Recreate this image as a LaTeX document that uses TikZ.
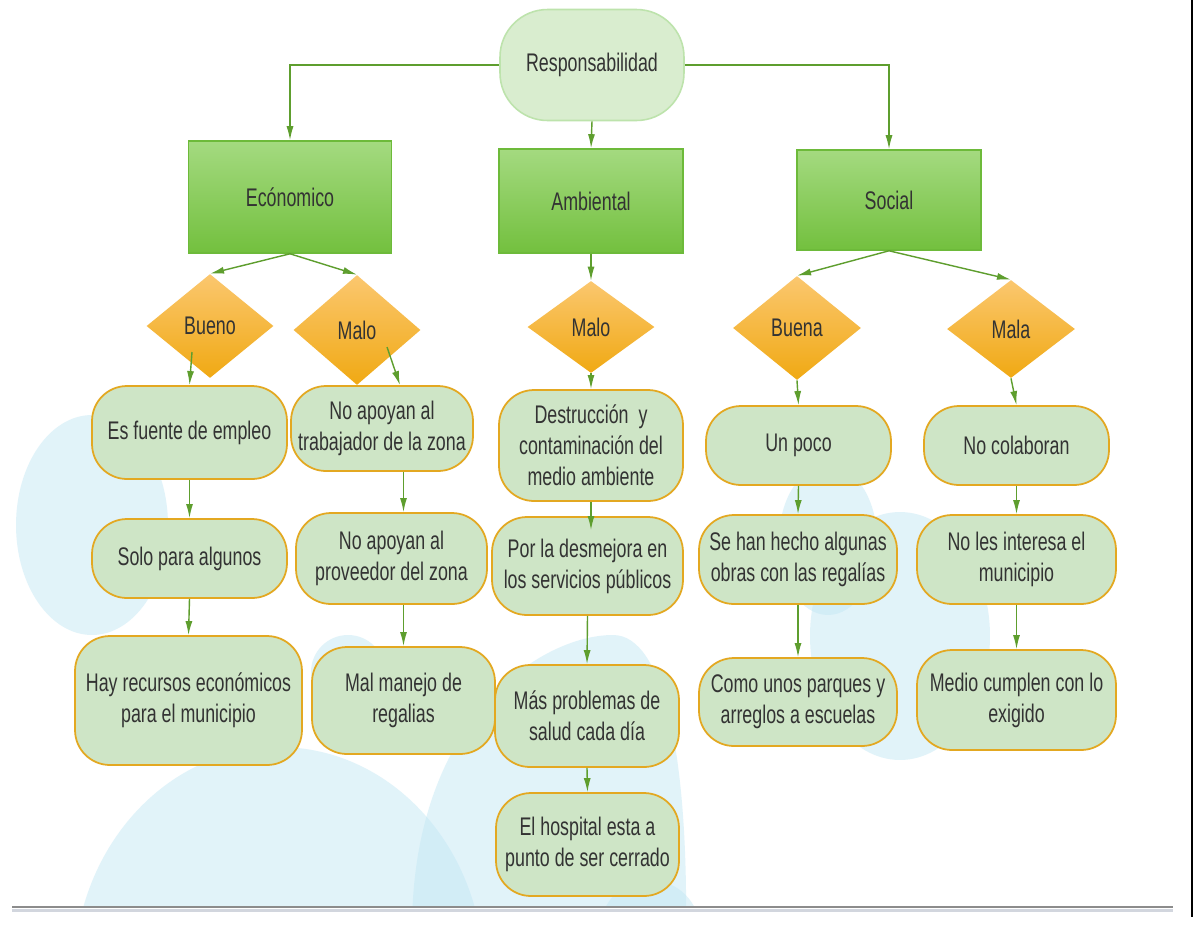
\documentclass[tikz,border=0pt]{standalone}
\usepackage{fontspec}
\setmainfont{Liberation Sans}[FakeStretch=0.70]
\usetikzlibrary{shapes.geometric,arrows.meta,calc}
\definecolor{txtgray}{HTML}{333333}
\definecolor{flowgreen}{HTML}{5E9E2E}
\definecolor{boxfill}{HTML}{CEE5C6}
\definecolor{boxedge}{HTML}{E3A821}
\definecolor{rootfill}{HTML}{D9EDCF}
\definecolor{rootedge}{HTML}{BDE3AC}
\definecolor{cattop}{HTML}{A4DA80}
\definecolor{catbot}{HTML}{73C03E}
\definecolor{catedge}{HTML}{6DBA3A}
\definecolor{dectop}{HTML}{FBC76F}
\definecolor{decbot}{HTML}{F0A913}
\definecolor{bgblue}{HTML}{C4E8F5}
\definecolor{linedark}{HTML}{8C8C8C}
\definecolor{linelight}{HTML}{D2D6DE}
\tikzset{txt/.style={text=txtgray,font=\fontsize{14.5}{17.6}\selectfont,align=center,inner sep=0pt}}
\tikzset{rootbox/.style={txt,draw=rootedge,fill=rootfill,line width=0.9pt,rounded corners=0.95cm}}
\tikzset{catbox/.style={txt,draw=catedge,top color=cattop,bottom color=catbot,line width=0.9pt}}
\tikzset{decbox/.style={txt,diamond,aspect=1.2,top color=dectop,bottom color=decbot}}
\tikzset{infobox/.style={txt,draw=boxedge,fill=boxfill,line width=1pt,rounded corners=0.7cm}}
\tikzset{flow/.style={draw=flowgreen,line width=0.8pt,-{Latex[length=8pt,width=4pt]}}}
\tikzset{blob/.style={fill=bgblue,fill opacity=0.5}}

\begin{document}
\begin{tikzpicture}[x=0.02cm,y=-0.02cm]
	\useasboundingbox (0,0) rectangle (1197,924);
	\fill[white] (0,0) rectangle (1197,924);
%	\draw[help lines] (0,0) grid[step=1cm] (1197,924); %grid

	% light blue blobs in the background
	\begin{scope}
		\clip (0,0) rectangle (1197,906);
		\fill[blob] (92,525) ellipse [x radius=1.52cm,y radius=2.2cm];
		\fill[blob] (279,975) ellipse [x radius=4.1cm,y radius=4.56cm];
		\fill[blob] (348,672) circle [radius=0.74cm];
		\fill[blob] (412,930) .. controls (412,720) and (540,635) .. (613,635) .. controls (665,635) and (688,760) .. (686,930) -- cycle;
		\fill[blob] (650,930) circle [radius=1cm];
		\fill[blob] (828,540) ellipse [x radius=0.98cm,y radius=1.5cm];
		\fill[blob] (900,636) ellipse [x radius=1.8cm,y radius=2.48cm];
	\end{scope}

	% top and the three branches
	\node[rootbox,minimum width=3.68cm,minimum height=2.22cm] (resp) at (592,65) {Responsabilidad};
	\node[catbox,minimum width=4.06cm,minimum height=2.24cm] (eco) at (290,197) {Ecónomico};
	\node[catbox,minimum width=3.68cm,minimum height=2.08cm] (amb) at (591,201) {Ambiental};
	\node[catbox,minimum width=3.68cm,minimum height=2cm] (soc) at (889,200) {Social};

	\node[decbox,minimum width=2.54cm,minimum height=2.08cm] (bueno) at (210,326) {Bueno};
	\node[decbox,minimum width=2.54cm,minimum height=2.2cm] (maloeco) at (357,330) {Malo};
	\node[decbox,minimum width=2.54cm,minimum height=1.84cm] (maloamb) at (591,327) {Malo};
	\node[decbox,minimum width=2.56cm,minimum height=2.08cm] (buena) at (797,328) {Buena};
	\node[decbox,minimum width=2.56cm,minimum height=1.96cm] (mala) at (1011,329) {Mala};

	% economico
	\node[infobox,minimum width=3.9cm,minimum height=1.86cm] (fuente) at (189.5,432.5) {Es fuente de empleo};
	\node[infobox,minimum width=3.9cm,minimum height=1.58cm] (solo) at (189.5,558.5) {Solo para algunos};
	\node[infobox,minimum width=4.54cm,minimum height=2.58cm] (hay) at (188.5,700.5) {Hay recursos económicos\\para el municipio};
	\node[infobox,minimum width=3.64cm,minimum height=1.7cm] (trab) at (382,428.5) {No apoyan al\\trabajador de la zona};
	\node[infobox,minimum width=3.82cm,minimum height=1.82cm] (prov) at (391.5,558.5) {No apoyan al\\proveedor del zona};
	\node[infobox,minimum width=3.66cm,minimum height=2.14cm] (mal) at (403.5,700.5) {Mal manejo de\\regalias};
	% ambiental
	\node[infobox,minimum width=3.68cm,minimum height=2.22cm] (destr) at (591,445.5) {Destrucción\ \ y\\contaminación del\\medio ambiente};
	\node[infobox,minimum width=3.82cm,minimum height=1.96cm] (desm) at (587.5,566) {Por la desmejora en\\los servicios públicos};
	\node[infobox,minimum width=3.68cm,minimum height=2.04cm] (mas) at (587,716) {Más problemas de\\salud cada día};
	\node[infobox,minimum width=3.66cm,minimum height=2.06cm] (hosp) at (587.5,844.5) {El hospital esta a\\punto de ser cerrado};
	% social
	\node[infobox,minimum width=3.7cm,minimum height=1.58cm] (poco) at (798.5,445.5) {Un poco};
	\node[infobox,minimum width=3.96cm,minimum height=1.78cm] (sehan) at (798,559.5) {Se han hecho algunas\\obras con las regalías};
	\node[infobox,minimum width=3.96cm,minimum height=1.76cm] (como) at (798,702) {Como unos parques y\\arreglos a escuelas};
	\node[infobox,minimum width=3.7cm,minimum height=1.58cm] (nocol) at (1016.5,445.5) {No colaboran};
	\node[infobox,minimum width=3.98cm,minimum height=1.78cm] (noles) at (1016.5,559.5) {No les interesa el\\municipio};
	\node[infobox,minimum width=3.98cm,minimum height=2cm] (medio) at (1016.5,700) {Medio cumplen con lo\\exigido};

	% connectors
	\draw[flow] (resp.west) -| (eco.north);
	\draw[flow] (resp.east) -| (soc.north);
	\draw[flow] (resp.south) -- (amb.north);
	\draw[flow] (eco.south) -- (bueno.north);
	\draw[flow] (eco.south) -- (maloeco.north);
	\draw[flow] (amb.south) -- (maloamb.north);
	\draw[flow] (soc.south) -- (buena.north);
	\draw[flow] (soc.south) -- (mala.north);

	\draw[flow] ($(bueno)+(-18,26)$) -- (fuente.north);
	\draw[flow] ($(maloeco)+(30,17)$) -- ($(trab.north)+(18,0)$);
	\draw[flow] (maloamb.south) -- (destr.north);
	\draw[flow] (buena.south) -- (poco.north);
	\draw[flow] (mala.south) -- (nocol.north);

	\draw[flow] (fuente.south) -- (solo.north);
	\draw[flow] (solo.south) -- (hay.north);
	\draw[flow] (trab.south -| mal.north) -- (prov.north -| mal.north);
	\draw[flow] (prov.south -| mal.north) -- (mal.north);
	\draw[flow,shorten >=-0.28cm] (destr.south) -- (destr.south |- desm.north);
	\draw[flow] (desm.south) -- (mas.north);
	\draw[flow] (mas.south) -- (hosp.north);
	\draw[flow] (poco.south) -- (sehan.north);
	\draw[flow] (sehan.south) -- (como.north);
	\draw[flow] (nocol.south) -- (noles.north);
	\draw[flow] (noles.south) -- (medio.north);

	% page edges
	\draw[linedark,line width=0.045cm] (12,907) -- (1173,907);
	\draw[linelight,line width=0.07cm] (12,910.5) -- (1173,910.5);
	\draw[black,line width=0.04cm] (1192,0) -- (1192,917);
\end{tikzpicture}
\end{document}
